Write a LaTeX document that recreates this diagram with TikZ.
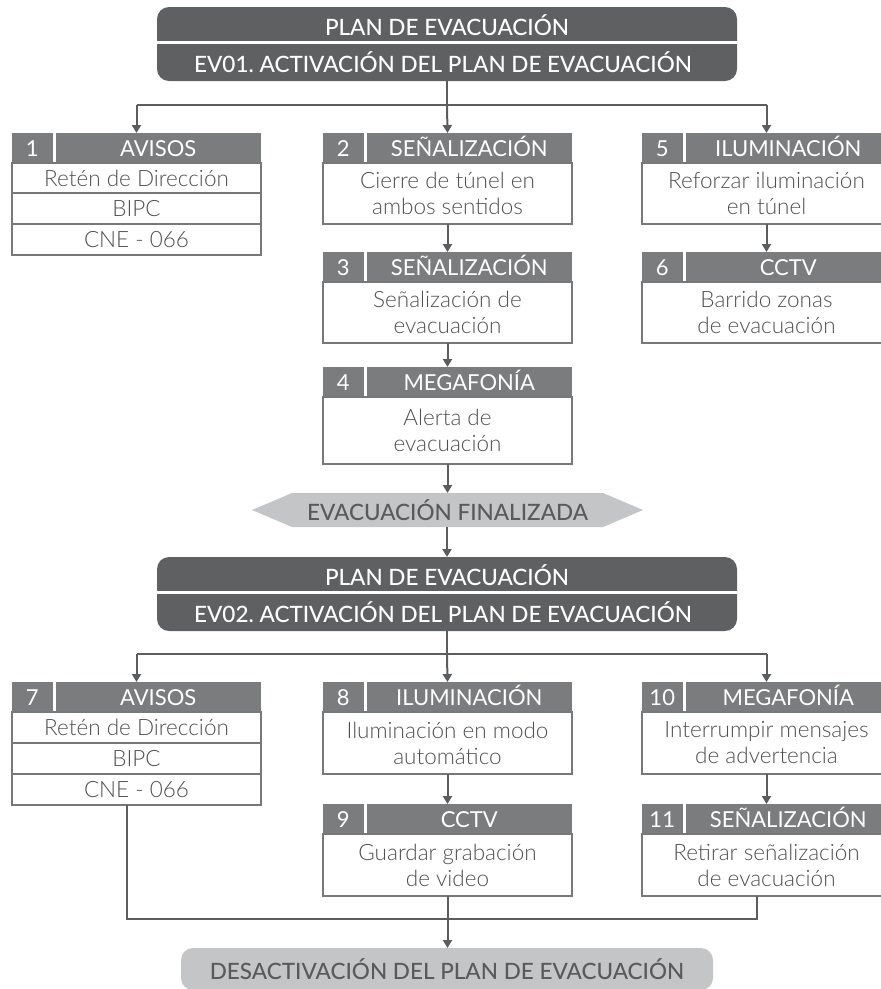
\documentclass[tikz,border=0pt]{standalone}
\usepackage{fontspec}
\setmainfont{Lato}[UprightFont=* Light]
\newfontfamily\hfont{Lato}
\newfontfamily\mfont{Lato Medium}
\usetikzlibrary{arrows.meta}
\definecolor{dark}{RGB}{94,96,98}
\definecolor{mid}{RGB}{122,124,125}
\definecolor{lightg}{RGB}{196,197,198}
\definecolor{linec}{RGB}{90,92,94}
\definecolor{bordc}{RGB}{118,120,122}
\definecolor{txt}{RGB}{78,80,82}
\definecolor{txtd}{RGB}{88,90,92}
\tikzset{
  every node/.style={inner sep=0pt, outer sep=0pt},
  numcell/.style={fill=mid, text=white, anchor=north west, minimum width=40.5pt, minimum height=30pt, text height=16.5pt, text depth=0pt, font=\hfont\fontsize{22}{24}\selectfont},
  titlecell/.style={fill=mid, text=white, anchor=north west, minimum width=205.5pt, minimum height=30pt, text height=16.5pt, text depth=0pt, font=\hfont\fontsize{22}{24}\selectfont},
  bodycell/.style={draw=bordc, line width=2pt, fill=white, text=txt, anchor=north west, minimum width=249pt, align=center, font=\fontsize{22.5}{26}\selectfont},
  conn/.style={draw=linec, line width=2pt},
  arr/.style={conn, -{Triangle[width=9pt,length=8pt]}},
  mainhead/.style={fill=dark, rounded corners=12pt, minimum width=580pt, minimum height=74pt, anchor=north west},
  headtxt/.style={text=white, font=\mfont\fontsize{22.5}{24}\selectfont},
  graytxt/.style={text=txtd, font=\mfont\fontsize{22.5}{24}\selectfont},
}
\newcommand\hdrcells[5]{%
  \node[numcell] (#1n) at (#2,#3) {#4};
  \node[titlecell] (#1t) at ({#2+43.5},#3) {#5};}
\begin{document}
\begin{tikzpicture}[x=1pt,y=-1pt]
\useasboundingbox (0,0) rectangle (881,989);
\clip (0,0) rectangle (881,989);

% ---------- main header 1
\node[mainhead] (h1) at (157,7) {};
\draw[white, line width=2.5pt] (h1.west |- 0,42.5) -- (h1.east |- 0,42.5);
\node[headtxt] (h1a) at (447,25) {PLAN DE EVACUACIÓN};
\node[headtxt] (h1b) at (443,62) {EV01.\ ACTIVACIÓN DEL PLAN DE EVACUACIÓN};

% ---------- box 1
\hdrcells{1}{12}{133}{1}{AVISOS}
\node[bodycell, minimum height=30pt] (r1a) at (12,163) {Retén de Dirección};
\node[bodycell, minimum height=31pt] (r1b) at (12,193) {BIPC};
\node[bodycell, minimum height=31pt] (r1c) at (12,224) {CNE - 066};
% ---------- box 2,3,4
\hdrcells{2}{323}{133}{2}{SEÑALIZACIÓN}
\node[bodycell, minimum height=61pt] (b2) at (323,163) {Cierre de túnel en\\ambos sentidos};
\hdrcells{3}{323}{252}{3}{SEÑALIZACIÓN}
\node[bodycell, minimum height=61pt] (b3) at (323,282) {Señalización de\\evacuación};
\hdrcells{4}{323}{367}{4}{MEGAFONÍA}
\node[bodycell, minimum height=67pt] (b4) at (323,397) {Alerta de\\evacuación};
% ---------- box 5,6
\hdrcells{5}{642}{133}{5}{ILUMINACIÓN}
\node[bodycell, minimum height=61pt] (b5) at (642,163) {Reforzar iluminación\\en túnel};
\hdrcells{6}{642}{252}{6}{CCTV}
\node[bodycell, minimum height=61pt] (b6) at (642,282) {Barrido zonas\\de evacuación};

% ---------- connectors top
\coordinate (j1) at (447,105);
\coordinate (j1l) at (136.5,105);
\coordinate (j1r) at (766.5,105);
\draw[conn] (h1.south) -- (j1);
\draw[conn] (j1l) -- (j1r);
\draw[arr] (j1l) -- (r1a.north |- 1n.north);
\draw[arr] (j1) -- (b2.north |- 2n.north);
\draw[arr] (j1r) -- (b5.north |- 5n.north);
\draw[arr] (b2.south) -- (b3.north |- 3n.north);
\draw[arr] (b3.south) -- (b4.north |- 4n.north);
\draw[arr] (b5.south) -- (b6.north |- 6n.north);

% ---------- evacuación finalizada
\fill[lightg] (252,510) -- (292,493) -- (603,493) -- (643,510) -- (603,527) -- (292,527) -- cycle;
\node[graytxt, minimum height=34pt] (fin) at (447.5,510) {EVACUACIÓN FINALIZADA};
\draw[arr] (b4.south) -- (b4.south |- fin.north);

% ---------- main header 2
\node[mainhead] (h2) at (157,557) {};
\draw[white, line width=2.5pt] (h2.west |- 0,592.5) -- (h2.east |- 0,592.5);
\node[headtxt] (h2a) at (447,575) {PLAN DE EVACUACIÓN};
\node[headtxt] (h2b) at (443,612) {EV02.\ ACTIVACIÓN DEL PLAN DE EVACUACIÓN};
\draw[arr] (h2.north |- fin.south) -- (h2.north);

% ---------- box 7
\hdrcells{7}{12}{682}{7}{AVISOS}
\node[bodycell, minimum height=31pt] (r7a) at (12,712) {Retén de Dirección};
\node[bodycell, minimum height=31pt] (r7b) at (12,743) {BIPC};
\node[bodycell, minimum height=31pt] (r7c) at (12,774) {CNE - 066};
% ---------- box 8,9
\hdrcells{8}{323}{682}{8}{ILUMINACIÓN}
\node[bodycell, minimum height=62pt] (b8) at (323,712) {Iluminación en modo\\automático};
\hdrcells{9}{323}{804}{9}{CCTV}
\node[bodycell, minimum height=62pt] (b9) at (323,834) {Guardar grabación\\de video};
% ---------- box 10,11
\hdrcells{10}{642}{682}{10}{MEGAFONÍA}
\node[bodycell, minimum height=62pt] (b10) at (642,712) {Interrumpir mensajes\\de advertencia};
\hdrcells{11}{642}{804}{11}{SEÑALIZACIÓN}
\node[bodycell, minimum height=62pt] (b11) at (642,834) {Retirar señalización\\de evacuación};

% ---------- connectors middle
\coordinate (j2) at (447,654);
\coordinate (j2l) at (136.5,654);
\coordinate (j2r) at (766.5,654);
\draw[conn] (h2.south) -- (j2);
\draw[conn] (j2l) -- (j2r);
\draw[arr] (j2l) -- (r7a.north |- 7n.north);
\draw[arr] (j2) -- (b8.north |- 8n.north);
\draw[arr] (j2r) -- (b10.north |- 10n.north);
\draw[arr] (b8.south) -- (b9.north |- 9n.north);
\draw[arr] (b10.south) -- (b11.north |- 11n.north);

% ---------- final
\node[fill=lightg, rounded corners=12pt, minimum width=532pt, minimum height=42pt, anchor=north west, graytxt] (endn) at (181,948) {DESACTIVACIÓN DEL PLAN DE EVACUACIÓN};
\coordinate (d7) at (127,919);
\coordinate (d11) at (757,919);
\draw[conn] (r7c.south -| d7) -- (d7) -- (d11) -- (b11.south -| d11);
\draw[arr] (b9.south) -- (b9.south |- endn.north);
\end{tikzpicture}
\end{document}
